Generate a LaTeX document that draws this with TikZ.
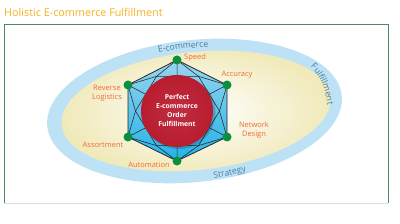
\documentclass[tikz,border=0pt]{standalone}
\usepackage{fontspec}
\setmainfont{Open Sans}
\usetikzlibrary{calc,decorations.text}
\definecolor{titleyel}{HTML}{F4B223}
\definecolor{framegreen}{HTML}{4A8A5E}
\definecolor{bandblue}{HTML}{BDE2F5}
\definecolor{ringtext}{HTML}{4A7C9C}
\definecolor{labor}{HTML}{F26A36}
\definecolor{dotgreen}{HTML}{0A8F3E}
\definecolor{hexblue}{HTML}{22B2E8}
\definecolor{hexlight}{HTML}{98D5EF}
\definecolor{circred}{HTML}{B91C2F}
\definecolor{paleyel}{HTML}{F0E9B8}
\newcommand{\ringfont}{\fontsize{8.6}{9}\selectfont}
\tikzset{
  lab/.style={text=labor,font=\fontsize{7.5}{8.8}\selectfont,align=center,inner sep=0pt},
  ringpath/.style={postaction={decorate},decoration={text along path,text align=center,text color=ringtext}},
  vdot/.style={circle,fill=dotgreen,minimum size=9pt,inner sep=0pt},
  edge/.style={draw=black!85,line width=0.55pt},
}
\begin{document}
\begin{tikzpicture}[x=1pt,y=1pt]
\useasboundingbox (0,0) rectangle (400,224);
\fill[white] (0,0) rectangle (400,224);
% title
\node[anchor=west,text=titleyel,font=\fontsize{10.8}{12}\selectfont,inner sep=0pt] (title) at (4,212) {Holistic E-commerce Fulfillment};
% frame
\draw[draw=black!12,line width=0.8pt] (4,21) -- (388,21);
\draw[draw=framegreen,line width=0.8pt] (4,21) -- (4,200) -- (388,200) -- (388,21);
% ellipses
\coordinate (ec) at (194.5,113);
\fill[bandblue,rotate around={6:(ec)}] (ec) ellipse [x radius=148,y radius=71];
\shade[inner color=white,outer color=paleyel,rotate around={6:(196,113)}] (196,113) ellipse [x radius=135,y radius=59];
% ring texts
\path[ringpath,decoration={text={|\ringfont|E-commerce}},rotate around={6:(ec)}]
  ($(ec)+(117:139 and 63)$) arc[start angle=117,end angle=67,x radius=139,y radius=63];
\coordinate (fA) at (305,161);
\coordinate (fB) at (328,112);
\path[ringpath,decoration={text={|\ringfont|Fulfillment}}]
  (fA) .. controls (316,155) and (327,138) .. (fB);
\path[ringpath,decoration={text={|\ringfont|Strategy}},rotate around={6:(ec)}]
  ($(ec)+(-98:145 and 69)$) arc[start angle=-98,end angle=-58,x radius=145,y radius=69];
% hexagon vertices
\coordinate (c) at (177.5,113);
\coordinate (v1) at (177,164);
\coordinate (v2) at (227,139);
\coordinate (v3) at (227,87);
\coordinate (v4) at (177,63);
\coordinate (v5) at (128,87);
\coordinate (v6) at (128,139);
\foreach \i/\a in {1/60,2/0,3/-60,4/-120,5/180,6/120}{
  \coordinate (w\i) at ($(c)+(\a:42 and 40)$);
}
\shade[top color=hexlight,bottom color=hexblue] (v1)--(v2)--(v3)--(v4)--(v5)--(v6)--cycle;
\foreach \i/\j/\k in {1/6/1,2/1/2,3/2/3,4/3/4,5/4/5,6/5/6}{
  \draw[edge] (v\i) -- (w\j);
  \draw[edge] (v\i) -- (w\k);
  \draw[edge] (v\i) -- (c);
}
\draw[edge] (w1)--(w2)--(w3)--(w4)--(w5)--(w6)--cycle;
\draw[edge,line width=0.8pt] (v1)--(v2)--(v3)--(v4)--(v5)--(v6)--cycle;
% circle
\fill[black,opacity=0.18] (179,111.5) circle (36.5);
\shade[inner color=circred!92!white,outer color=circred] (177,113) circle (36);
\node[text=white,font=\bfseries\fontsize{6.8}{9}\selectfont,align=center,inner sep=0pt] (ctext) at (177,113.5) {Perfect\\E-commerce\\Order\\Fulfillment};
% dots
\foreach \i in {1,...,6}{ \node[vdot] (d\i) at (v\i) {}; }
% labels
\node[lab] (lSpeed) at (195,166) {Speed};
\node[lab] (lAcc) at (237,149) {Accuracy};
\node[lab] (lRev) at (107,130.5) {Reverse\\Logistics};
\node[lab] (lNet) at (254,94) {Network\\Design};
\node[lab] (lAss) at (103,79) {Assortment};
\node[lab] (lAut) at (149,59) {Automation};
\end{tikzpicture}
\end{document}
